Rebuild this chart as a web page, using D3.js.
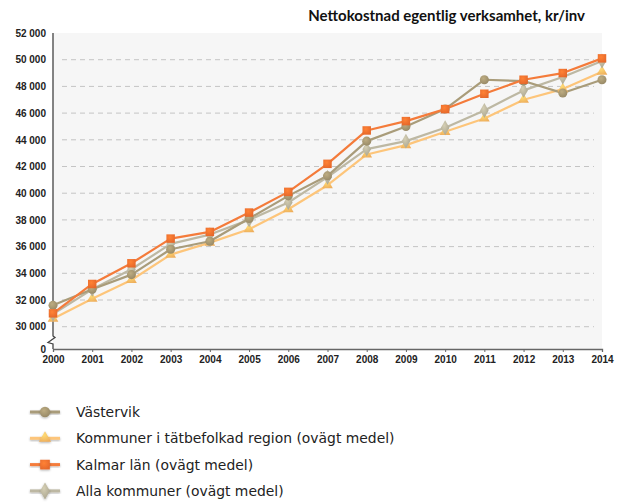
<!DOCTYPE html>
<html>
<head>
<meta charset="utf-8">
<script src="https://cdn.jsdelivr.net/npm/d3@7"></script>
<style>
  body { margin: 0; background: #fff; }
  svg { display: block; font-family: "DejaVu Sans", Verdana, sans-serif; }
</style>
</head>
<body>
<div id="chart"></div>
<script>
// Data
const years = [2000, 2001, 2002, 2003, 2004, 2005, 2006, 2007, 2008, 2009, 2010, 2011, 2012, 2013, 2014];
const vastervik = [31600, 32800, 33900, 35800, 36400, 38100, 39800, 41300, 43900, 45000, 46300, 48500, 48400, 47500, 48500];
const tatbefolkad = [30600, 32100, 33500, 35400, 36300, 37300, 38800, 40600, 42900, 43600, 44600, 45600, 47000, 47800, 49100];
const kalmar = [31000, 33200, 34750, 36600, 37100, 38550, 40100, 42200, 44700, 45400, 46300, 47450, 48500, 49000, 50100];
const allaKommuner = [30950, 32800, 34300, 36200, 36900, 38000, 39300, 41200, 43300, 43900, 44900, 46200, 47700, 48700, 49900];
const yTicks = [0, 30000, 32000, 34000, 36000, 38000, 40000, 42000, 44000, 46000, 48000, 50000, 52000];
const gridTicks = [30000, 32000, 34000, 36000, 38000, 40000, 42000, 44000, 46000, 48000, 50000];

const series = [
    { name: 'Västervik', values: vastervik, line: '#a99c7a', mark: '#9e906c', symbol: d3.symbolCircle, size: 64 },
    { name: 'Kommuner i tätbefolkad region (ovägt medel)', values: tatbefolkad, line: '#fdc57a', mark: '#fbb861', symbol: d3.symbolTriangle, size: 50 },
    { name: 'Kalmar län (ovägt medel)', values: kalmar, line: '#f47b3a', mark: '#f26d2c', symbol: d3.symbolSquare, size: 72 },
    { name: 'Alla kommuner (ovägt medel)', values: allaKommuner, line: '#bdb8a3', mark: '#b2ad97', symbol: d3.symbolDiamond, size: 64 }
];
// draw order: lines stacked as in reference (Kalmar on top)
const drawOrder = [1, 3, 0, 2];

const W = 624, H = 502;
const plot = { left: 53, right: 602, top: 33, bottom: 349 };

const svg = d3.select('#chart')
    .append('svg')
    .attr('width', W)
    .attr('height', H);

const defs = svg.append('defs');
series.forEach((s, i) => {
    const g = defs.append('radialGradient')
        .attr('id', `mk-${i}`)
        .attr('cx', '40%').attr('cy', '35%').attr('r', '70%');
    g.append('stop').attr('offset', '0%').attr('stop-color', d3.color(s.mark).brighter(0.5));
    g.append('stop').attr('offset', '100%').attr('stop-color', d3.color(s.mark).darker(0.15));
});
const shadow = defs.append('filter').attr('id', 'shadow')
    .attr('x', '-50%').attr('y', '-50%').attr('width', '200%').attr('height', '200%');
shadow.append('feDropShadow')
    .attr('dx', 0).attr('dy', 1).attr('stdDeviation', 0.8)
    .attr('flood-color', '#000').attr('flood-opacity', 0.3);

// Scales (y axis broken between 0 and 30 000)
const x = d3.scaleLinear()
    .domain([years[0], years[years.length - 1]])
    .range([plot.left, plot.right]);

const y = d3.scaleLinear()
    .domain([0, 30000, 52000])
    .range([plot.bottom, 326.7, plot.top]);

// Plot background
svg.append('rect')
    .attr('x', plot.left)
    .attr('y', plot.top)
    .attr('width', plot.right - plot.left)
    .attr('height', plot.bottom - plot.top)
    .attr('fill', '#f6f6f6');

// Grid lines
svg.append('g')
    .selectAll('line')
    .data(gridTicks)
    .enter()
    .append('line')
    .attr('x1', plot.left + 9)
    .attr('x2', plot.right - 8)
    .attr('y1', d => y(d))
    .attr('y2', d => y(d))
    .attr('stroke', '#c4c4c4')
    .attr('stroke-width', 1)
    .attr('stroke-dasharray', '5,4');

// Title
svg.append('text')
    .attr('x', 585)
    .attr('y', 21)
    .attr('text-anchor', 'end')
    .style('font-family', 'Lato, sans-serif')
    .style('font-size', '15px')
    .style('font-weight', 'bold')
    .style('fill', '#111')
    .text('Nettokostnad egentlig verksamhet, kr/inv');

// Y axis
const yAxis = svg.append('g')
    .attr('transform', `translate(${plot.left},0)`)
    .call(d3.axisLeft(y).tickValues(yTicks).tickSize(0).tickPadding(7)
        .tickFormat(d => d3.format(',')(d).replace(/,/g, ' ')));
yAxis.select('.domain').remove();
yAxis.selectAll('text')
    .style('font-size', '10px')
    .style('font-weight', 'bold')
    .style('fill', '#222');

// Axis line with break mark
svg.append('path')
    .attr('d', `M${plot.left},${plot.top} L${plot.left},336 L${plot.left + 2},337.5 L${plot.left - 5},342.5 L${plot.left},344 L${plot.left},${plot.bottom}`)
    .attr('fill', 'none')
    .attr('stroke', '#444')
    .attr('stroke-width', 1.3);

// X axis
const xAxis = svg.append('g')
    .attr('transform', `translate(0,${plot.bottom})`)
    .call(d3.axisBottom(x).tickValues(years).tickSize(3).tickPadding(4).tickFormat(d3.format('d')));
xAxis.select('.domain')
    .attr('stroke', '#666')
    .attr('stroke-width', 1.3);
xAxis.selectAll('.tick line').attr('stroke', '#666');
xAxis.selectAll('text')
    .style('font-size', '10px')
    .style('font-weight', 'bold')
    .style('fill', '#222');

// Lines and markers
const line = d3.line()
    .x((d, i) => x(years[i]))
    .y(d => y(d));

drawOrder.forEach(idx => {
    const s = series[idx];
    svg.append('path')
        .datum(s.values)
        .attr('fill', 'none')
        .attr('stroke', s.line)
        .attr('stroke-width', 2.2)
        .attr('stroke-linejoin', 'round')
        .attr('d', line);
});

drawOrder.forEach(idx => {
    const s = series[idx];
    svg.append('g')
        .selectAll('path')
        .data(s.values)
        .enter()
        .append('path')
        .attr('d', d3.symbol().type(s.symbol).size(s.size))
        .attr('transform', (d, i) => `translate(${x(years[i])},${y(d)})`)
        .attr('fill', `url(#mk-${idx})`);
});

// Legend
const legend = svg.append('g')
    .selectAll('g')
    .data(series)
    .enter()
    .append('g')
    .attr('transform', (d, i) => `translate(30,${412 + i * 26.3})`);

legend.append('rect')
    .attr('x', 0).attr('y', -1.5)
    .attr('width', 30).attr('height', 3)
    .attr('fill', d => d.line)
    .attr('filter', 'url(#shadow)');

legend.append('path')
    .attr('d', d => d3.symbol().type(d.symbol).size(d.size * 1.3)())
    .attr('transform', 'translate(15,0)')
    .attr('fill', (d, i) => `url(#mk-${i})`)
    .attr('filter', 'url(#shadow)');

legend.append('text')
    .attr('x', 46)
    .attr('y', 5)
    .style('font-size', '13.9px')
    .style('fill', '#222')
    .text(d => d.name);
</script>
</body>
</html>
